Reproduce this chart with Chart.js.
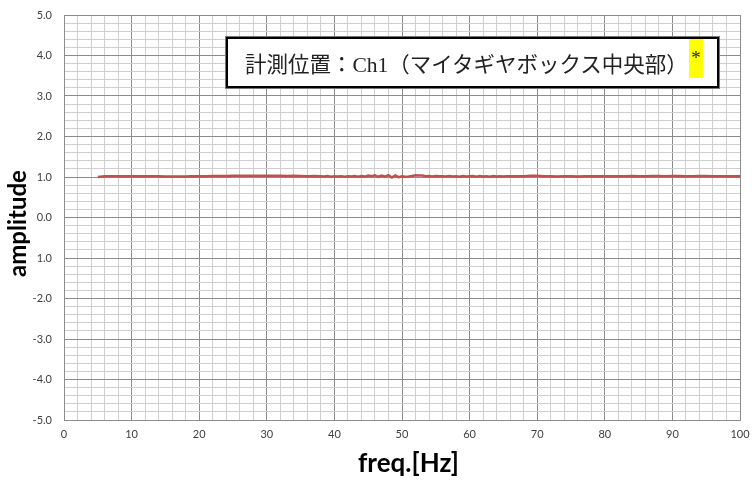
<!DOCTYPE html>
<html>
<head>
<meta charset="utf-8">
<script src="https://cdn.jsdelivr.net/npm/chart.js@4/dist/chart.umd.min.js"></script>
<style>
  body { margin: 0; background: #fff; }
  #wrap { position: relative; width: 755px; height: 482px; }
  #note {
    position: absolute; left: 226px; top: 37px; width: 489px; height: 47px;
    border: 2px solid #000; box-shadow: 0 0 0 1px #777; background: #fff;
    font-family: "Liberation Serif", "Noto Sans CJK JP", serif; font-size: 21.5px; color: #222;
    box-sizing: content-box;
  }
  #note .txt { position: absolute; left: 17px; top: 8px; white-space: nowrap; }
  #note .mark {
    position: absolute; left: 461px; top: 0px; width: 14px; height: 39px;
    background: #ffff00; text-align: center; line-height: 38px; font-size: 19px;
  }
</style>
</head>
<body>
<div id="wrap">
  <canvas id="chart" width="755" height="482"></canvas>
  <div id="note"><span class="txt">計測位置：Ch1（マイタギヤボックス中央部）</span><span class="mark">*</span></div>
</div>
<script>
const freq = [
  5, 6, 7, 8, 9, 10, 11, 12, 13, 14, 15, 16, 17, 18, 19, 20, 21, 22, 23, 24, 25, 26, 27, 28, 29, 30, 31, 32, 33, 34, 35, 36, 37,
  38, 38.5, 39, 39.5, 40, 40.5, 41, 41.5, 42, 42.5, 43, 43.5, 44, 44.5, 45, 45.5, 46, 46.5, 47, 47.5,
  48, 48.5, 49, 49.5, 50, 50.5, 51, 51.5, 52, 52.5, 53, 53.5, 54, 54.5, 55, 55.5, 56, 56.5, 57, 57.5,
  58, 58.5, 59, 59.5, 60, 60.5, 61, 61.5, 62, 62.5, 63, 63.5, 64, 64.5, 65, 65.5, 66,
  67, 68, 69, 70, 71, 72, 73, 74, 75, 76, 77, 78, 79, 80, 81, 82, 83, 84, 85, 86, 87, 88, 89, 90,
  91, 92, 93, 94, 95, 96, 97, 98, 99, 100
];
const amplitude = [
  1.00, 1.02, 1.02, 1.02, 1.02, 1.02, 1.02, 1.02, 1.02, 1.02, 1.015, 1.01, 1.01, 1.015, 1.02, 1.02, 1.02, 1.025, 1.025, 1.025,
  1.03, 1.03, 1.03, 1.03, 1.03, 1.03, 1.03, 1.03, 1.025, 1.03, 1.025, 1.02, 1.025,
  1.02, 1.01, 1.025, 1.005, 1.02, 1.01, 1.02, 1.005, 1.02, 1.01, 1.025, 1.005, 1.025, 1.01, 1.035, 1.02, 1.04, 1.005, 1.035, 1.01,
  1.045, 0.985, 1.04, 0.995, 1.02, 1.005, 1.01, 1.025, 1.04, 1.035, 1.035, 1.02, 1.025, 1.01, 1.025, 1.02, 1.02, 1.01, 1.025, 1.01,
  1.02, 1.005, 1.025, 1.01, 1.02, 1.025, 1.005, 1.025, 1.01, 1.02, 1.005, 1.025, 1.01, 1.02, 1.01, 1.02, 1.02,
  1.02, 1.02, 1.03, 1.03, 1.02, 1.02, 1.015, 1.02, 1.02, 1.015, 1.02, 1.02, 1.02, 1.02, 1.02, 1.02, 1.02, 1.025, 1.02, 1.02,
  1.025, 1.025, 1.02, 1.025, 1.025, 1.02, 1.02, 1.025, 1.025, 1.02, 1.02, 1.02, 1.02, 1.02
];
// the source chart labels -1 as "1.0", kept as drawn
const yTickValues = [5, 4, 3, 2, 1, 0, -1, -2, -3, -4, -5];
const yTickLabels = ['5.0', '4.0', '3.0', '2.0', '1.0', '0.0', '1.0', '-2.0', '-3.0', '-4.0', '-5.0'];
const xTickLabels = [0, 10, 20, 30, 40, 50, 60, 70, 80, 90, 100];

const tickFont = { family: 'Lato, "Liberation Sans", sans-serif', size: 11 };
const xTitleFont = { family: 'Lato, "Liberation Sans", sans-serif', size: 26, weight: 'bold' };
const yTitleFont = { family: 'Lato, "Liberation Sans", sans-serif', size: 24, weight: 'bold' };

function isWhole(v) { return Math.abs(v - Math.round(v)) < 1e-6; }

new Chart(document.getElementById('chart'), {
  type: 'line',
  data: {
    datasets: [{
      data: freq.map((f, i) => ({ x: f, y: amplitude[i] })),
      borderColor: '#c0504d',
      borderWidth: 2.5,
      pointRadius: 0,
      tension: 0
    }]
  },
  options: {
    responsive: false,
    animation: false,
    layout: { padding: { top: 15, right: 15, left: 0, bottom: 0 } },
    plugins: { legend: { display: false }, tooltip: { enabled: false } },
    scales: {
      x: {
        type: 'linear', min: 0, max: 100,
        afterFit: (s) => { s.height = 62; },
        ticks: {
          stepSize: 2, autoSkip: false, maxRotation: 0, padding: 3, color: '#404040', font: tickFont,
          callback: (v) => {
            const r = Math.round(v);
            return isWhole(v) && xTickLabels.includes(r) ? String(r) : '';
          }
        },
        grid: {
          drawTicks: true, tickLength: 5, tickColor: 'rgba(0,0,0,0)',
          color: (c) => (c.tick && isWhole(c.tick.value / 10) ? '#8c8c8c' : '#cfcfcf'),
          lineWidth: 1
        },
        border: { display: true, color: '#8c8c8c' },
        title: { display: true, text: '\u2002freq.[Hz]', color: '#000', font: xTitleFont, padding: { top: 0, bottom: 3 } }
      },
      y: {
        min: -5, max: 5,
        afterFit: (s) => { s.width = 64; },
        ticks: {
          stepSize: 0.2, autoSkip: false, padding: 3, color: '#404040', font: tickFont,
          callback: (v) => {
            if (!isWhole(v)) return '';
            const i = yTickValues.indexOf(Math.round(v));
            return i >= 0 ? yTickLabels[i] : '';
          }
        },
        grid: {
          drawTicks: true, tickLength: 9, tickColor: 'rgba(0,0,0,0)',
          color: (c) => (c.tick && isWhole(c.tick.value) ? '#8c8c8c' : '#cfcfcf'),
          lineWidth: 1
        },
        border: { display: true, color: '#8c8c8c' },
        title: { display: true, text: 'amplitude\u2002', color: '#000', font: yTitleFont, padding: { top: 4, bottom: 0 } }
      }
    }
  }
});
</script>
</body>
</html>
